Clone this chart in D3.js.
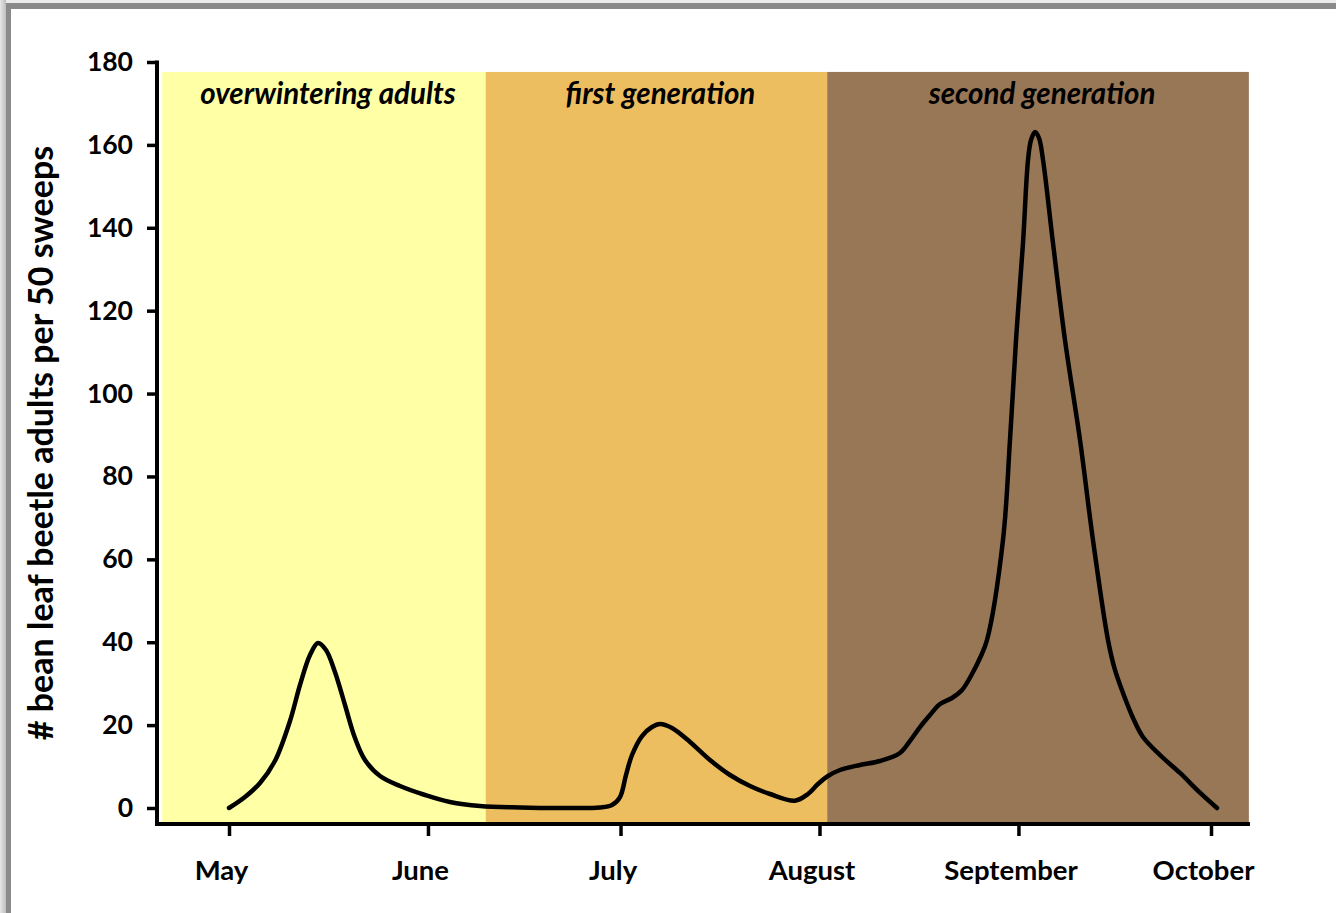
<!DOCTYPE html>
<html>
<head>
<meta charset="utf-8">
<script src="https://cdn.jsdelivr.net/npm/d3@7"></script>
<style>
  html, body { margin: 0; padding: 0; background: #ffffff; }
  svg { display: block; }
  text { font-family: Lato, "Open Sans", sans-serif; font-weight: 700; fill: #000; }
</style>
</head>
<body>
<svg id="chart" width="1336" height="913"></svg>
<script>
// ---------------- data ----------------
// sample positions, in days after 1 May, and counts read from the picture
const sampleDay = [0.0, 2.49, 4.83, 7.17, 9.50, 11.06, 12.62, 13.87, 15.11, 16.51, 18.07, 19.63,
  21.19, 23.53, 26.64, 30.54, 34.43, 39.11, 45.34, 51.57, 57.80, 59.67, 60.92, 61.85, 62.79,
  64.35, 65.90, 67.15, 69.02, 71.83, 74.94, 78.06, 81.18, 84.29, 88.19, 90.21, 91.77, 93.33,
  95.20, 98.31, 101.43, 104.54, 106.10, 107.66, 109.22, 110.78, 112.65, 114.21, 115.76,
  117.01, 118.10, 120.59, 121.68, 122.62, 123.71, 124.49, 124.96, 125.58, 126.20,
  126.83, 128.38, 130.25, 132.59, 134.61, 136.95, 138.04, 139.29, 140.85, 142.40,
  145.05, 148.17, 151.28, 153.93];
const beetleCount = [0, 2.65, 6.03, 11.4, 21.0, 29.68, 36.92, 39.81, 38.12, 32.81, 24.85, 16.89,
  11.58, 7.72, 5.31, 3.14, 1.45, 0.48, 0.12, 0, 0.12, 0.72, 2.65, 7.96, 12.79,
  17.37, 19.54, 20.27, 19.30, 15.93, 11.58, 7.96, 5.31, 3.38, 1.76, 3.38, 5.79, 7.72,
  9.17, 10.38, 11.34, 13.27, 16.17, 19.54, 22.44, 25.09, 26.54, 28.47, 32.33,
  36.19, 40.54, 64.67, 88.80, 112.92, 136.33, 156.36, 161.19, 163.12, 161.67,
  156.36, 136.33, 112.92, 88.80, 64.67, 40.54, 33.30, 27.75, 21.72, 17.13,
  12.79, 8.45, 3.7, 0];

const monthLabels = ["May", "June", "July", "August", "September", "October"];
const monthDates = ["2014-05-01", "2014-06-01", "2014-07-01", "2014-08-01", "2014-09-01", "2014-10-01"];

const yTicks = [0, 20, 40, 60, 80, 100, 120, 140, 160, 180];

const bandLabels = ["overwintering adults", "first generation", "second generation"];
const bandStartDay = [-10.4, 40.0, 93.2];
const bandEndDay = [40.0, 93.2, 158.9];
const bandTopValue = 177.6;

const yTitle = "# bean leaf beetle adults per 50 sweeps";

// ---------------- layout ----------------
const svg = d3.select("#chart");
const parse = d3.utcParse("%Y-%m-%d");
const base = parse("2014-05-01");
const dayToDate = d => new Date(base.getTime() + d * 864e5);

const x = d3.scaleUtc()
  .domain([parse(monthDates[0]), parse(monthDates[monthDates.length - 1])])
  .range([229, 1211]);
const y = d3.scaleLinear().domain([0, 180]).range([808, 62]);
const xAxisY = 824;
const yAxisX = 157;

// frame
const defs = svg.append("defs");
const lg = defs.append("linearGradient").attr("id", "lgrad").attr("x1", 0).attr("x2", 1).attr("y1", 0).attr("y2", 0);
lg.append("stop").attr("offset", 0).attr("stop-color", "#e6e6e6");
lg.append("stop").attr("offset", 1).attr("stop-color", "#bdbdbd");
svg.append("rect").attr("x", 0).attr("y", 0).attr("width", 1336).attr("height", 3).attr("fill", "#ececec");
svg.append("rect").attr("x", 0).attr("y", 0).attr("width", 6).attr("height", 913).attr("fill", "url(#lgrad)");
svg.append("rect").attr("x", 6).attr("y", 3).attr("width", 1330).attr("height", 6).attr("fill", "#8a8a8a");
svg.append("rect").attr("x", 6).attr("y", 3).attr("width", 5).attr("height", 910).attr("fill", "#8a8a8a");

// bands
const bandColors = ["#ffffa6", "#edbe60", "#987757"];
const bands = bandLabels.map((l, i) => ({ label: l, s: bandStartDay[i], e: bandEndDay[i], c: bandColors[i] }));
svg.append("g").selectAll("rect").data(bands).join("rect")
  .attr("x", d => x(dayToDate(d.s)))
  .attr("width", d => x(dayToDate(d.e)) - x(dayToDate(d.s)))
  .attr("y", y(bandTopValue))
  .attr("height", d => xAxisY - y(bandTopValue))
  .attr("fill", d => d.c);

svg.append("g").selectAll("text").data(bands).join("text")
  .attr("x", d => (x(dayToDate(d.s)) + x(dayToDate(d.e))) / 2 + 4)
  .attr("y", 104)
  .attr("text-anchor", "middle")
  .style("font-style", "italic")
  .style("font-size", "29.5px")
  .text(d => d.label);

// line
const pts = sampleDay.map((d, i) => [x(dayToDate(d)), y(beetleCount[i])]);
const line = d3.line().curve(d3.curveCatmullRom.alpha(0.5));
svg.append("path")
  .attr("d", line(pts))
  .attr("fill", "none")
  .attr("stroke", "#000")
  .attr("stroke-width", 4.5)
  .attr("stroke-linecap", "round")
  .attr("stroke-linejoin", "round");

// y axis
const yAxis = d3.axisLeft(y).tickValues(yTicks).tickSize(10).tickPadding(14);
const gy = svg.append("g").attr("transform", `translate(${yAxisX},0)`).call(yAxis);
gy.select(".domain").remove();
gy.selectAll(".tick line").attr("stroke", "#000").attr("stroke-width", 3.5);
gy.selectAll(".tick text").style("font-size", "26.5px").style("font-family", "Lato, sans-serif").style("font-weight", 700).attr("fill", "#000");
svg.append("line").attr("x1", yAxisX).attr("x2", yAxisX).attr("y1", y(180) - 1.5).attr("y2", xAxisY + 2)
  .attr("stroke", "#000").attr("stroke-width", 4);

// x axis
const xAxis = d3.axisBottom(x).tickValues(monthDates.map(parse)).tickSize(12).tickPadding(24)
  .tickFormat((d, i) => monthLabels[i]);
const gx = svg.append("g").attr("transform", `translate(0,${xAxisY})`).call(xAxis);
gx.select(".domain").remove();
gx.selectAll(".tick line").attr("stroke", "#000").attr("stroke-width", 3.5);
gx.selectAll(".tick text").style("font-size", "27.5px").style("font-family", "Lato, sans-serif").style("font-weight", 700).attr("fill", "#000")
  .attr("dx", -8);
svg.append("line").attr("x1", yAxisX - 2).attr("x2", 1250).attr("y1", xAxisY).attr("y2", xAxisY)
  .attr("stroke", "#000").attr("stroke-width", 4);

// y title
svg.append("text")
  .attr("transform", `translate(53,443) rotate(-90)`)
  .attr("text-anchor", "middle")
  .style("font-size", "34px")
  .text(yTitle);
</script>
</body>
</html>
